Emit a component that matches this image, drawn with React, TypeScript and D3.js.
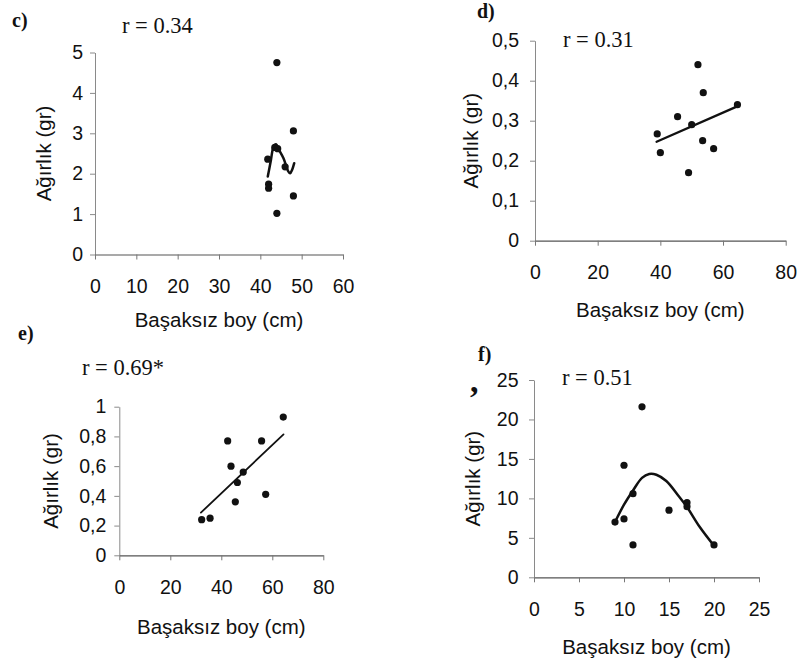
import React, { useEffect, useRef } from "react";
import * as d3 from "d3";

// panel c) - scatter + polynomial fit
const cBoy = [44, 48, 43.5, 44.2, 41.8, 46, 42, 42, 48, 44];
const cAgirlik = [4.75, 3.06, 2.65, 2.62, 2.36, 2.17, 1.74, 1.64, 1.45, 1.02];
const cFitBoy = [41.8, 42.5, 43.2, 43.75, 44.5, 45.6, 46.8, 47.2, 47.7, 48.2];
const cFitAgirlik = [1.93, 2.3, 2.67, 2.73, 2.59, 2.38, 2.05, 2.01, 2.1, 2.26];
const cXTicks = [0, 10, 20, 30, 40, 50, 60];
const cYTicks = [0, 1, 2, 3, 4, 5];

// panel d) - scatter + linear fit
const dBoy = [39, 40, 45.5, 50, 52, 53.7, 53.5, 57, 49, 64.6];
const dAgirlik = [0.267, 0.22, 0.31, 0.29, 0.44, 0.37, 0.25, 0.23, 0.17, 0.34];
const dFitBoy = [38.8, 64.9];
const dFitAgirlik = [0.2475, 0.337];
const dXTicks = [0, 20, 40, 60, 80];
const dYTicks = [0, 0.1, 0.2, 0.3, 0.4, 0.5];

// panel e) - scatter + linear fit
const eBoy = [32.3, 35.6, 42.5, 43.8, 46.3, 45.5, 48.6, 55.8, 57.4, 64.3];
const eAgirlik = [0.24, 0.25, 0.77, 0.6, 0.49, 0.36, 0.56, 0.77, 0.41, 0.93];
const eFitBoy = [32, 64.4];
const eFitAgirlik = [0.287, 0.814];
const eXTicks = [0, 20, 40, 60, 80];
const eYTicks = [0, 0.2, 0.4, 0.6, 0.8, 1];

// panel f) - scatter + polynomial fit
const fBoy = [9, 10, 10, 11, 11, 12, 15, 17, 17, 20];
const fAgirlik = [7, 14.2, 7.4, 10.6, 4.1, 21.6, 8.5, 9.45, 8.95, 4.1];
const fFitBoy = [9, 10, 11, 12, 12.8, 13.6, 14.7, 16, 17, 18.4, 20];
const fFitAgirlik = [7.0, 9.2, 11.0, 12.6, 13.1, 13.0, 12.2, 10.4, 8.9, 6.4, 4.0];
const fXTicks = [0, 5, 10, 15, 20, 25];
const fYTicks = [0, 5, 10, 15, 20, 25];

const xTitle = "Başaksız boy (cm)";
const yTitle = "Ağırlık (gr)";

const commaFmt = (d: number) =>
  d === 0 || d === 1 ? String(d) : d.toFixed(1).replace(".", ",");

const panels = [
  {
    letter: "c)", letterX: 12, letterY: 27,
    r: "r = 0.34", rX: 122, rY: 33,
    xs: cBoy, ys: cAgirlik, fitX: cFitBoy, fitY: cFitAgirlik, curved: true, lw: 2.5,
    xDomain: [0, 60], yDomain: [0, 5], xRange: [95, 343], yRange: [254.5, 52.5],
    xTicks: cXTicks, yTicks: cYTicks, yFmt: (d: number) => String(d),
    yGap: 12, xTitleY: 327, yTitleX: 45,
  },
  {
    letter: "d)", letterX: 477, letterY: 18,
    r: "r = 0.31", rX: 563, rY: 47,
    xs: dBoy, ys: dAgirlik, fitX: dFitBoy, fitY: dFitAgirlik, curved: false, lw: 2.3,
    xDomain: [0, 80], yDomain: [0, 0.5], xRange: [535, 785.7], yRange: [240.7, 40.7],
    xTicks: dXTicks, yTicks: dYTicks, yFmt: commaFmt,
    yGap: 16, xTitleY: 317, yTitleX: 472,
  },
  {
    letter: "e)", letterX: 18, letterY: 340,
    r: "r = 0.69*", rX: 82, rY: 375,
    xs: eBoy, ys: eAgirlik, fitX: eFitBoy, fitY: eFitAgirlik, curved: false, lw: 1.8,
    xDomain: [0, 80], yDomain: [0, 1], xRange: [119.3, 323.3], yRange: [555.3, 406.7],
    xTicks: eXTicks, yTicks: eYTicks, yFmt: commaFmt,
    yGap: 13, xTitleY: 634, yTitleX: 52,
  },
  {
    letter: "f)", letterX: 478, letterY: 361,
    r: "r = 0.51", rX: 562, rY: 385,
    xs: fBoy, ys: fAgirlik, fitX: fFitBoy, fitY: fFitAgirlik, curved: true, lw: 2.5,
    xDomain: [0, 25], yDomain: [0, 25], xRange: [534, 759], yRange: [577.3, 380],
    xTicks: fXTicks, yTicks: fYTicks, yFmt: (d: number) => String(d),
    yGap: 15.5, xTitleY: 654, yTitleX: 474,
  },
];

const SANS = "'Liberation Sans', Arial, sans-serif";
const SERIF = "'Liberation Serif', 'Times New Roman', serif";

const App: React.FC = () => {
  const svgRef = useRef<SVGSVGElement | null>(null);

  useEffect(() => {
    const svg = d3.select(svgRef.current);
    svg.selectAll("*").remove();

    panels.forEach(p => {
      const x = d3.scaleLinear().domain(p.xDomain).range(p.xRange);
      const y = d3.scaleLinear().domain(p.yDomain).range(p.yRange);
      const g = svg.append("g");

      // Y axis
      g.append("g")
        .attr("transform", `translate(${p.xRange[0]},0)`)
        .call(
          d3.axisLeft(y)
            .tickValues(p.yTicks)
            .tickFormat(d => p.yFmt(+d))
            .tickSize(5)
            .tickSizeOuter(0)
            .tickPadding(p.yGap - 5)
        )
        .call(a => a.select(".domain").attr("stroke", "#8a8a8a"))
        .call(a => a.selectAll(".tick line").attr("stroke", "#8a8a8a"))
        .call(a =>
          a.selectAll("text")
            .attr("font-family", SANS)
            .attr("font-size", 19.5)
            .attr("fill", "#111")
        );

      // X axis
      g.append("g")
        .attr("transform", `translate(0,${p.yRange[0]})`)
        .call(
          d3.axisBottom(x)
            .tickValues(p.xTicks)
            .tickFormat(d => String(d))
            .tickSize(5)
            .tickSizeOuter(0)
            .tickPadding(19.5)
        )
        .call(a => a.select(".domain").attr("stroke", "#555").attr("stroke-width", 1.2))
        .call(a => a.selectAll(".tick line").attr("stroke", "#777"))
        .call(a =>
          a.selectAll("text")
            .attr("font-family", SANS)
            .attr("font-size", 19.5)
            .attr("fill", "#111")
        );

      // axis titles
      g.append("text")
        .attr("x", (p.xRange[0] + p.xRange[1]) / 2)
        .attr("y", p.xTitleY)
        .attr("text-anchor", "middle")
        .attr("font-family", SANS)
        .attr("font-size", 20.5)
        .attr("fill", "#111")
        .text(xTitle);

      const cy = (p.yRange[0] + p.yRange[1]) / 2;
      g.append("text")
        .attr("transform", `translate(${p.yTitleX + 6},${cy}) rotate(-90)`)
        .attr("text-anchor", "middle")
        .attr("font-family", SANS)
        .attr("font-size", 20.5)
        .attr("fill", "#111")
        .text(yTitle);

      // fit line
      const pts: [number, number][] = p.fitX.map((v, i) => [v, p.fitY[i]]);
      const line = d3.line<[number, number]>()
        .x(d => x(d[0]))
        .y(d => y(d[1]))
        .curve(p.curved ? d3.curveCatmullRom : d3.curveLinear);
      g.append("path")
        .attr("d", line(pts))
        .attr("fill", "none")
        .attr("stroke", "#111")
        .attr("stroke-width", p.lw)
        .attr("stroke-linecap", "round");

      // points
      g.append("g")
        .selectAll("circle")
        .data(p.xs.map((v, i) => [v, p.ys[i]]))
        .join("circle")
        .attr("cx", d => x(d[0]))
        .attr("cy", d => y(d[1]))
        .attr("r", 3.6)
        .attr("fill", "#111");

      // r label
      g.append("text")
        .attr("x", p.rX)
        .attr("y", p.rY)
        .attr("font-family", SERIF)
        .attr("font-size", 22.5)
        .attr("fill", "#111")
        .text(p.r);

      // panel letter
      g.append("text")
        .attr("x", p.letterX)
        .attr("y", p.letterY)
        .attr("font-family", SERIF)
        .attr("font-weight", "bold")
        .attr("font-size", 20)
        .attr("fill", "#111")
        .text(p.letter);
    });

    // scan mark left of panel f
    svg.append("text")
      .attr("x", 470)
      .attr("y", 392)
      .attr("font-family", SERIF)
      .attr("font-weight", "bold")
      .attr("font-size", 34)
      .attr("fill", "#111")
      .text(",");
  }, []);

  return (
    <svg
      ref={svgRef}
      width={800}
      height={664}
      style={{ position: "absolute", left: 0, top: 0, background: "#fff" }}
    ></svg>
  );
};

export default App;
